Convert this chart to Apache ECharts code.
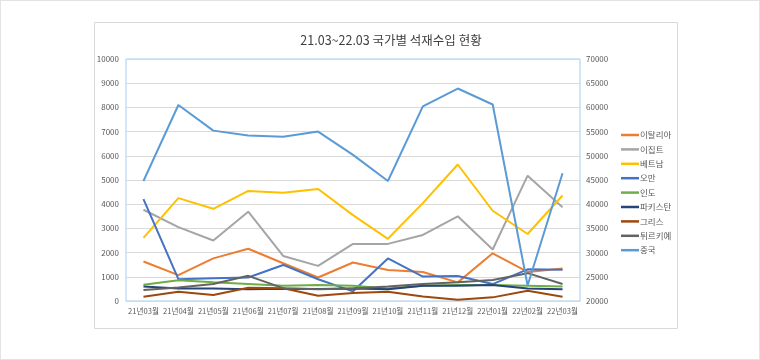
<!DOCTYPE html>
<html><head><meta charset="utf-8">
<script src="https://cdn.jsdelivr.net/npm/echarts@6/dist/echarts.min.js"></script>
<style>
html,body{margin:0;padding:0;background:#fff;}
#c{width:760px;height:360px;box-sizing:border-box;border:1px solid #e3e3e3;}
</style></head><body>
<div id="c"></div>
<script>
var categories = ['21년03월','21년04월','21년05월','21년06월','21년07월','21년08월','21년09월','21년10월','21년11월','21년12월','22년01월','22년02월','22년03월'];
var seriesNames = ['이탈리아','이집트','베트남','오만','인도','파키스탄','그리스','튀르키예','중국'];
var italy    = [1630,1070,1760,2160,1560,970,1590,1280,1200,770,1970,1200,1340];
var egypt    = [3770,3050,2500,3690,1860,1450,2360,2360,2730,3500,2130,5180,3870];
var vietnam  = [2610,4250,3810,4550,4470,4630,3550,2570,4045,5640,3730,2770,4360];
var oman     = [4210,900,940,970,1490,900,400,1760,1010,1030,700,1310,1290];
var india    = [670,860,770,700,630,660,630,520,630,660,660,630,600];
var pakistan = [600,520,520,490,510,500,520,490,630,630,660,520,490];
var greece   = [180,380,250,550,530,220,330,380,190,50,150,420,180];
var turkey   = [450,560,700,1040,530,490,520,600,700,770,870,1150,700];
var china    = [44800,60500,55200,54200,53950,55000,50200,44800,60200,63900,60600,23200,46400];
var leftAxis = {min:0, max:10000, interval:1000};
var rightAxis = {min:20000, max:70000, interval:5000};
var titleText = '21.03~22.03 국가별 석재수입 현황';

var colors = ['#ED7D31','#A5A5A5','#FFC000','#4472C4','#70AD47','#264478','#9E480E','#636363','#5B9BD5'];
var dataSets = [italy, egypt, vietnam, oman, india, pakistan, greece, turkey, china];
var FONT = '"Noto Sans CJK KR", "Noto Sans", sans-serif';

var series = seriesNames.map(function(n, i){
  return {
    name: n, type: 'line', data: dataSets[i],
    yAxisIndex: i === 8 ? 1 : 0,
    symbol: 'none', smooth: false,
    lineStyle: {width: 2, color: colors[i]},
    itemStyle: {color: colors[i]},
    emphasis: {disabled: true}
  };
});

function plain(v){ return String(v); }

var chart = echarts.init(document.getElementById('c'), null, {renderer:'canvas'});
chart.setOption({
  animation: false,
  color: colors,
  title: {
    text: titleText, left: 385, top: 28, textAlign: 'center',
    textStyle: {fontFamily: FONT, fontSize: 12.5, fontWeight: 'normal', color: '#404040'}
  },
  graphic: [{
    type: 'rect', left: 91, top: 19, z: -1,
    shape: {width: 583, height: 306},
    style: {fill: 'none', stroke: '#d9d9d9', lineWidth: 1}
  }],
  legend: {
    orient: 'vertical', left: 615, top: 123,
    icon: 'rect', itemWidth: 18, itemHeight: 2.5, itemGap: 2.4,
    textStyle: {fontFamily: FONT, fontSize: 8.5, color: '#595959', lineHeight: 12, padding: [0,0,0,-4]},
    data: seriesNames
  },
  grid: {left: 125, right: 179, top: 58, bottom: 58, show: true, borderColor: '#a9cbec', borderWidth: 1},
  xAxis: {
    type: 'category', data: categories, boundaryGap: true,
    axisLine: {lineStyle: {color: '#d9d9d9'}}, axisTick: {show: false},
    axisLabel: {fontFamily: FONT, fontSize: 7.6, color: '#595959', margin: 6, interval: 0}
  },
  yAxis: [{
    type: 'value', min: leftAxis.min, max: leftAxis.max, interval: leftAxis.interval,
    axisLine: {show: false}, axisTick: {show: false},
    axisLabel: {fontFamily: FONT, fontSize: 8, color: '#595959', margin: 7, formatter: plain},
    splitLine: {lineStyle: {color: '#d9d9d9'}}
  },{
    type: 'value', min: rightAxis.min, max: rightAxis.max, interval: rightAxis.interval,
    axisLine: {show: false}, axisTick: {show: false},
    axisLabel: {fontFamily: FONT, fontSize: 8, color: '#595959', margin: 6, formatter: plain},
    splitLine: {show: false}
  }],
  series: series
});
</script>
</body></html>
